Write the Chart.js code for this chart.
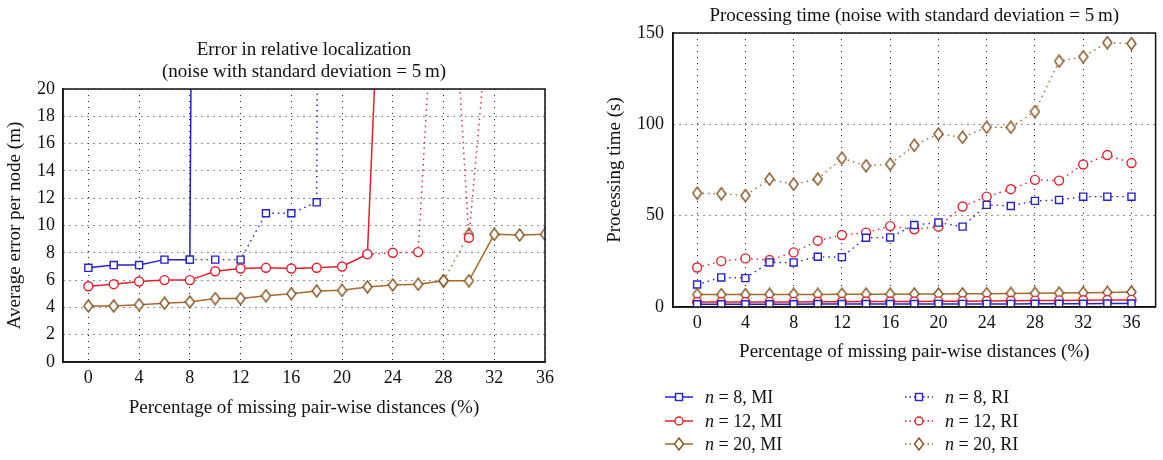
<!DOCTYPE html>
<html>
<head>
<meta charset="utf-8">
<script src="https://cdn.jsdelivr.net/npm/chart.js@4.4.1/dist/chart.umd.min.js"></script>
<style>
  body { margin: 0; background: #fff; width: 1163px; height: 460px; position: relative; overflow: hidden; font-family: "Liberation Serif", "DejaVu Serif", serif; }
  #err { position: absolute; left: 0; top: 0; }
  #time { position: absolute; left: 580px; top: 0; }
  .item { position: absolute; height: 20px; display: flex; align-items: center; font-size: 18px; color: #111; white-space: nowrap; }
  .item svg { margin-right: 12px; }
</style>
</head>
<body>
<canvas id="err" width="596" height="460"></canvas>
<canvas id="time" width="583" height="460"></canvas>
<div id="legend"></div>
<script>
const SERIF = '"Liberation Serif", "DejaVu Serif", serif';

// percentage of missing pair-wise distances
const pct = [0, 2, 4, 6, 8, 10, 12, 14, 16, 18, 20, 22, 24, 26, 28, 30, 32, 34, 36];
const xTicks = [0, 4, 8, 12, 16, 20, 24, 28, 32, 36];
const errTicks = [0, 2, 4, 6, 8, 10, 12, 14, 16, 18, 20];
const timeTicks = [0, 50, 100, 150];

// error in relative localization (m); values above 20 leave the plot
const errMI8  = [6.9, 7.1, 7.1, 7.5, 7.5, 300, null, null, null, null, null, null, null, null, null, null, null, null, null];
const errRI8  = [null, null, null, null, 7.5, 7.5, 7.5, 10.9, 10.9, 11.7, 400, null, null, null, null, null, null, null, null];
const errMI12 = [5.55, 5.7, 5.9, 6.0, 6.0, 6.65, 6.85, 6.9, 6.85, 6.9, 7.0, 7.9, 52, null, null, null, null, null, null];
const errRI12 = [null, null, null, null, null, null, null, null, null, null, null, 7.9, 8.0, 8.05, 40, 9.1, 30, null, null];
const errMI20 = [4.1, 4.1, 4.2, 4.3, 4.4, 4.65, 4.65, 4.85, 5.0, 5.2, 5.25, 5.5, 5.65, 5.7, 5.95, 5.95, 9.35, 9.3, 9.35];
const errRI20 = [null, null, null, null, null, null, null, null, null, null, null, null, null, null, 5.95, 9.35, null, null, null];

// processing time (s)
const timeMI8  = [1.5, 1.5, 1.5, 1.5, 1.5, 1.6, 1.6, 1.6, 1.6, 1.6, 1.7, 1.7, 1.7, 1.7, 1.8, 1.8, 1.8, 1.9, 1.9];
const timeMI12 = [2.7, 2.7, 2.7, 2.8, 2.8, 2.9, 2.9, 3.0, 3.0, 3.0, 3.1, 3.2, 3.3, 3.4, 3.5, 3.6, 3.7, 3.8, 3.9];
const timeMI20 = [6.8, 6.8, 6.8, 6.9, 6.9, 6.9, 7.0, 7.0, 7.0, 7.1, 7.1, 7.2, 7.3, 7.4, 7.5, 7.6, 7.8, 8.0, 8.2];
const timeRI8  = [12.3, 16.2, 15.8, 24.4, 24.4, 27.5, 27.3, 37.9, 38.1, 44.9, 46.2, 44.0, 55.9, 55.3, 58.1, 58.6, 60.4, 60.4, 60.4];
const timeRI12 = [21.6, 25.1, 26.6, 25.7, 29.9, 36.3, 39.4, 40.7, 44.3, 42.5, 44.0, 55.0, 60.4, 64.5, 69.6, 69.2, 78.0, 83.2, 78.8];
const timeRI20 = [62.3, 62.0, 61.0, 70.0, 67.2, 70.0, 81.5, 77.3, 78.2, 88.5, 94.7, 92.9, 98.4, 98.4, 107.0, 134.6, 137.0, 144.7, 144.2];

function diamond(color) {
    const c = document.createElement("canvas");
    c.width = 11; c.height = 14;
    const g = c.getContext("2d");
    g.fillStyle = "#fff";
    g.strokeStyle = color;
    g.lineWidth = 1.4;
    g.beginPath();
    g.moveTo(5.5, 1); g.lineTo(10, 7); g.lineTo(5.5, 13); g.lineTo(1, 7);
    g.closePath();
    g.fill(); g.stroke();
    return c;
}

const styles = {
    8:  { color: "#2323c8", point: "rect", radius: 5 },
    12: { color: "#e0222c", point: "circle", radius: 4.5 },
    20: { color: "#a8682c", point: diamond("#85521f"), radius: 6 },
};

function ds(label, values, n, dotted) {
    const s = styles[n];
    return {
        label,
        data: pct.map((x, i) => ({ x, y: values[i] })),
        borderColor: s.color,
        borderWidth: dotted ? 1.4 : 1.5,
        borderDash: dotted ? [1.5, 4] : [],
        pointStyle: s.point,
        pointRadius: s.radius,
        pointBorderColor: s.color,
        pointBackgroundColor: "#fff",
        pointBorderWidth: 1.4,
        tension: 0,
        spanGaps: false,
        _n: n, _dotted: dotted,
    };
}

// box round the plot area
const framePlugin = {
    id: "frame",
    afterDatasetsDraw(chart) {
        const { ctx, chartArea: a } = chart;
        ctx.save();
        ctx.strokeStyle = "#111";
        ctx.lineWidth = 1.5;
        ctx.strokeRect(a.left, a.top, a.right - a.left, a.bottom - a.top);
        ctx.restore();
    }
};

const tickFont = { family: SERIF, size: 18 };
const labelFont = { family: SERIF, size: 19, lineHeight: "22px" };

function xScale(min, max, height, titleBottom) {
    return {
        type: "linear", min, max,
        afterBuildTicks: s => { s.ticks = xTicks.map(v => ({ value: v })); },
        afterFit: s => { s.height = height; s.paddingLeft = 0; s.paddingRight = 0; },
        grid: { color: "#222", lineWidth: 1, drawTicks: false },
        border: { display: true, color: "#111", width: 1.5, dash: [1, 5] },
        ticks: { font: tickFont, color: "#111", padding: 5, maxRotation: 0 },
        title: { display: true, text: "Percentage of missing pair-wise distances (%)", font: labelFont, color: "#111", padding: { top: 0, bottom: titleBottom } },
    };
}

function yScale(min, max, ticks, width, text, titleTop, pad) {
    return {
        type: "linear", min, max,
        afterBuildTicks: s => { s.ticks = ticks.map(v => ({ value: v })); },
        afterFit: s => { s.width = width; s.paddingTop = 0; s.paddingBottom = 0; },
        grid: { color: "#222", lineWidth: 1, drawTicks: false },
        border: { display: true, color: "#111", width: 1.5, dash: [1, 5] },
        ticks: { font: tickFont, color: "#111", padding: pad },
        title: { display: true, text, font: labelFont, color: "#111", padding: { top: titleTop, bottom: 0 } },
    };
}

new Chart(document.getElementById("err"), {
    type: "line",
    data: {
        datasets: [
            ds("n = 8, MI", errMI8, 8, false),
            ds("n = 12, MI", errMI12, 12, false),
            ds("n = 20, MI", errMI20, 20, false),
            ds("n = 8, RI", errRI8, 8, true),
            ds("n = 12, RI", errRI12, 12, true),
            ds("n = 20, RI", errRI20, 20, true),
        ]
    },
    options: {
        responsive: false,
        animation: false,
        events: [],
        layout: { padding: { left: 0, right: 51, top: 0, bottom: 0 } },
        plugins: {
            legend: { display: false },
            tooltip: { enabled: false },
            title: {
                display: true, fullSize: false,
                text: ["Error in relative localization", "(noise with standard deviation = 5\u2009m)"],
                font: { family: SERIF, size: 19, weight: "normal", lineHeight: "22px" },
                color: "#111",
                padding: { top: 39, bottom: 6 },
            },
        },
        scales: {
            x: xScale(-2, 36, 98, 41),
            y: yScale(0, 20, errTicks, 63, "Average error per node (m)", 4.5, 8),
        }
    },
    plugins: [framePlugin]
});

const timeChart = new Chart(document.getElementById("time"), {
    type: "line",
    data: {
        datasets: [
            ds("n = 8, MI", timeMI8, 8, false),
            ds("n = 12, MI", timeMI12, 12, false),
            ds("n = 20, MI", timeMI20, 20, false),
            ds("n = 8, RI", timeRI8, 8, true),
            ds("n = 12, RI", timeRI12, 12, true),
            ds("n = 20, RI", timeRI20, 20, true),
        ]
    },
    options: {
        responsive: false,
        animation: false,
        events: [],
        layout: { padding: { left: 0, right: 7, top: 0, bottom: 0 } },
        plugins: {
            legend: { display: false },
            tooltip: { enabled: false },
            title: {
                display: true, fullSize: false,
                text: "Processing time (noise with standard deviation = 5\u2009m)",
                font: { family: SERIF, size: 19, weight: "normal", lineHeight: "22px" },
                color: "#111",
                padding: { top: 5, bottom: 6 },
            },
        },
        scales: {
            x: xScale(-2, 38, 153, 97),
            y: yScale(0, 150, timeTicks, 93, "Processing time (s)", 24, 9),
        }
    },
    plugins: [framePlugin]
});

// legend: MI in the left column, RI in the right one
function icon(n, dotted) {
    const c = styles[n].color;
    let m;
    if (n === 8) m = `<rect x="10.5" y="3.5" width="7" height="7" fill="#fff" stroke="${c}" stroke-width="1.4"/>`;
    else if (n === 12) m = `<circle cx="14" cy="7" r="4" fill="#fff" stroke="${c}" stroke-width="1.4"/>`;
    else m = `<polygon points="14,1 18.5,7 14,13 9.5,7" fill="#fff" stroke="#85521f" stroke-width="1.4"/>`;
    const dash = dotted ? ` stroke-dasharray="1.5 3"` : "";
    return `<svg width="28" height="14"><line x1="0" y1="7" x2="28" y2="7" stroke="${c}" stroke-width="1.5"${dash}/>${m}</svg>`;
}

const legendEl = document.getElementById("legend");
const colX = [665, 905];
const rowY = [397, 421, 444];
timeChart.data.datasets.forEach((d, i) => {
    const el = document.createElement("div");
    el.className = "item";
    el.style.left = colX[d._dotted ? 1 : 0] + "px";
    el.style.top = (rowY[i % 3] - 10) + "px";
    el.innerHTML = icon(d._n, d._dotted) + "<span><i>n</i>" + d.label.slice(1) + "</span>";
    legendEl.appendChild(el);
});
</script>
</body>
</html>
